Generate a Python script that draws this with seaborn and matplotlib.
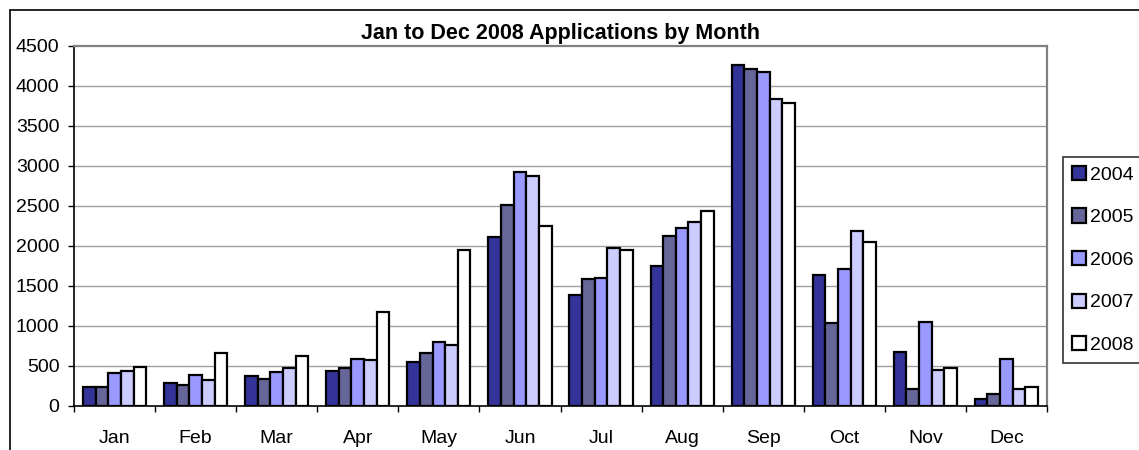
import matplotlib
matplotlib.use("Agg")
import matplotlib.pyplot as plt
import seaborn as sns
import pandas as pd
from matplotlib.lines import Line2D

months = ["Jan", "Feb", "Mar", "Apr", "May", "Jun", "Jul", "Aug", "Sep", "Oct", "Nov", "Dec"]
years = ["2004", "2005", "2006", "2007", "2008"]
v2004 = [240, 291, 379, 437, 554, 2108, 1387, 1754, 4262, 1637, 671, 87]
v2005 = [238, 262, 337, 479, 666, 2517, 1587, 2125, 4217, 1042, 217, 146]
v2006 = [408, 391, 425, 587, 796, 2929, 1604, 2229, 4179, 1717, 1050, 587]
v2007 = [441, 321, 479, 575, 762, 2875, 1979, 2304, 3837, 2192, 446, 212]
v2008 = [491, 666, 629, 1179, 1950, 2250, 1950, 2442, 3792, 2054, 475, 241]
colors = ["#333399", "#666699", "#9999FF", "#CCCCFF", "#FFFFFF"]
title = "Jan to Dec 2008 Applications by Month"

rows = []
for y, vals in zip(years, [v2004, v2005, v2006, v2007, v2008]):
    for m, v in zip(months, vals):
        rows.append({"Month": m, "Year": y, "Value": v})
df = pd.DataFrame(rows)

sns.set_theme(style="white")
plt.rcParams["font.family"] = ["Liberation Sans", "DejaVu Sans"]
plt.rcParams["text.color"] = "black"
plt.rcParams["xtick.color"] = "black"
plt.rcParams["ytick.color"] = "black"
plt.rcParams["axes.labelcolor"] = "black"

W, H = 1139, 450
fig = plt.figure(figsize=(W / 100, H / 100), dpi=100)
ax = fig.add_axes([74 / W, (H - 406) / H, 973 / W, 360 / H])

sns.barplot(data=df, x="Month", y="Value", hue="Year", order=months, hue_order=years,
            palette=colors, edgecolor="black", linewidth=1.6, width=0.78, ax=ax,
            saturation=1, errorbar=None, legend=True)

ax.set_ylim(0, 4500)
ax.set_xlim(-0.5, 11.5)
ax.set_yticks(range(0, 4501, 500))
ax.set_xlabel("")
ax.set_ylabel("")
for y in range(500, 4500, 500):
    ax.axhline(y, color="#a0a0a0", linewidth=1, zorder=0)
ax.set_axisbelow(True)

for s in ["left", "bottom"]:
    ax.spines[s].set_color("black")
    ax.spines[s].set_linewidth(1.2)
for s in ["top", "right"]:
    ax.spines[s].set_color("#808080")
    ax.spines[s].set_linewidth(1.6)

ax.tick_params(axis="y", which="major", direction="out", length=4.5, width=1, color="black",
               labelsize=14, pad=6, left=True, labelcolor="black")
ax.tick_params(axis="x", which="major", length=0, labelsize=14, pad=17, labelcolor="black")
ax.set_xticks([i - 0.5 for i in range(13)], minor=True)
ax.tick_params(axis="x", which="minor", direction="out", length=4.5, width=1, color="black", bottom=True)

ax.set_title(title, fontsize=15.5, fontweight="bold", pad=5, color="black")

handles, labels = ax.get_legend_handles_labels()
ax.legend_.remove()
leg = fig.legend(handles, labels, loc="upper left", bbox_to_anchor=(1063 / W, 1 - 157 / H),
                 bbox_transform=fig.transFigure, frameon=True, fancybox=False,
                 fontsize=14, handlelength=0.75, handleheight=0.75, handletextpad=0.2,
                 labelspacing=1.27, borderpad=0.45, borderaxespad=0)
leg.get_frame().set_edgecolor("black")
leg.get_frame().set_linewidth(1.2)
for t in leg.get_texts():
    t.set_color("black")

# outer chart border (left and top edges visible)
fig.add_artist(Line2D([10 / W, 10 / W], [0, 1 - 10 / H], color="black", linewidth=1.2,
                      transform=fig.transFigure))
fig.add_artist(Line2D([10 / W, 1], [1 - 10 / H, 1 - 10 / H], color="black", linewidth=1.2,
                      transform=fig.transFigure))

fig.savefig("out.png", dpi=100)
